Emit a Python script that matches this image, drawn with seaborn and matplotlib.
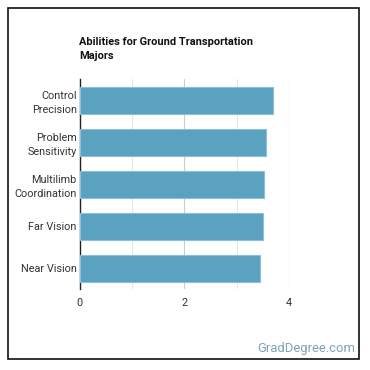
import numpy as np
import pandas as pd
import matplotlib.pyplot as plt
import seaborn as sns
from matplotlib.patches import Rectangle

# 数据
abilities = ['Control\nPrecision', 'Problem\nSensitivity', 'Multilimb\nCoordination',
             'Far Vision', 'Near Vision']
scores = [3.69, 3.57, 3.53, 3.50, 3.45]

df = pd.DataFrame({'ability': abilities, 'score': scores})

sns.set_style('white')
plt.rcParams['font.family'] = ['Roboto', 'DejaVu Sans']

fig = plt.figure(figsize=(3.7, 3.7), dpi=100)
ax = fig.add_axes([79.5 / 370, 1 - 289.3 / 370, 209.5 / 370, 210 / 370])

sns.barplot(data=df, x='score', y='ability', color='#5ba1c0', saturation=1,
            width=0.635, edgecolor='#8cc0d6', linewidth=0.8, ax=ax, zorder=3)

ax.set_xlim(0, 4)
ax.set_ylim(4.5, -0.5)
ax.set_xticks([0, 2, 4])
ax.set_xticks([1, 3], minor=True)
ax.grid(axis='x', which='major', color='#cccccc', linewidth=0.8, zorder=0)
ax.grid(axis='x', which='minor', color='#e6e6e6', linewidth=0.8, zorder=0)
ax.set_axisbelow(True)
ax.set_xlabel('')
ax.set_ylabel('')
for s in ['top', 'right', 'bottom']:
    ax.spines[s].set_visible(False)
ax.spines['left'].set_color('#222222')
ax.spines['left'].set_linewidth(1.0)
ax.tick_params(axis='both', which='both', length=0, labelsize=7.8, colors='#333333')
ax.tick_params(axis='x', pad=6)
ax.tick_params(axis='y', pad=2)
for t in ax.get_yticklabels():
    t.set_linespacing(1.45)

# 标题
fig.text(79 / 370, 1 - 37 / 370, 'Abilities for Ground Transportation\nMajors',
         fontsize=7.9, fontweight='bold', va='top', ha='left', color='#111111',
         linespacing=1.5)

# 水印
fig.text(355 / 370, 1 - 352 / 370, 'GradDegree.com', fontsize=9.4, color='#7fa3b8',
         ha='right', va='baseline')

# 外框
fig.patches.append(Rectangle((8 / 370, 1 - 359 / 370), 351 / 370, 351 / 370,
                             transform=fig.transFigure, fill=False,
                             edgecolor='#111111', linewidth=1.2))

fig.savefig('out.png', dpi=100)
